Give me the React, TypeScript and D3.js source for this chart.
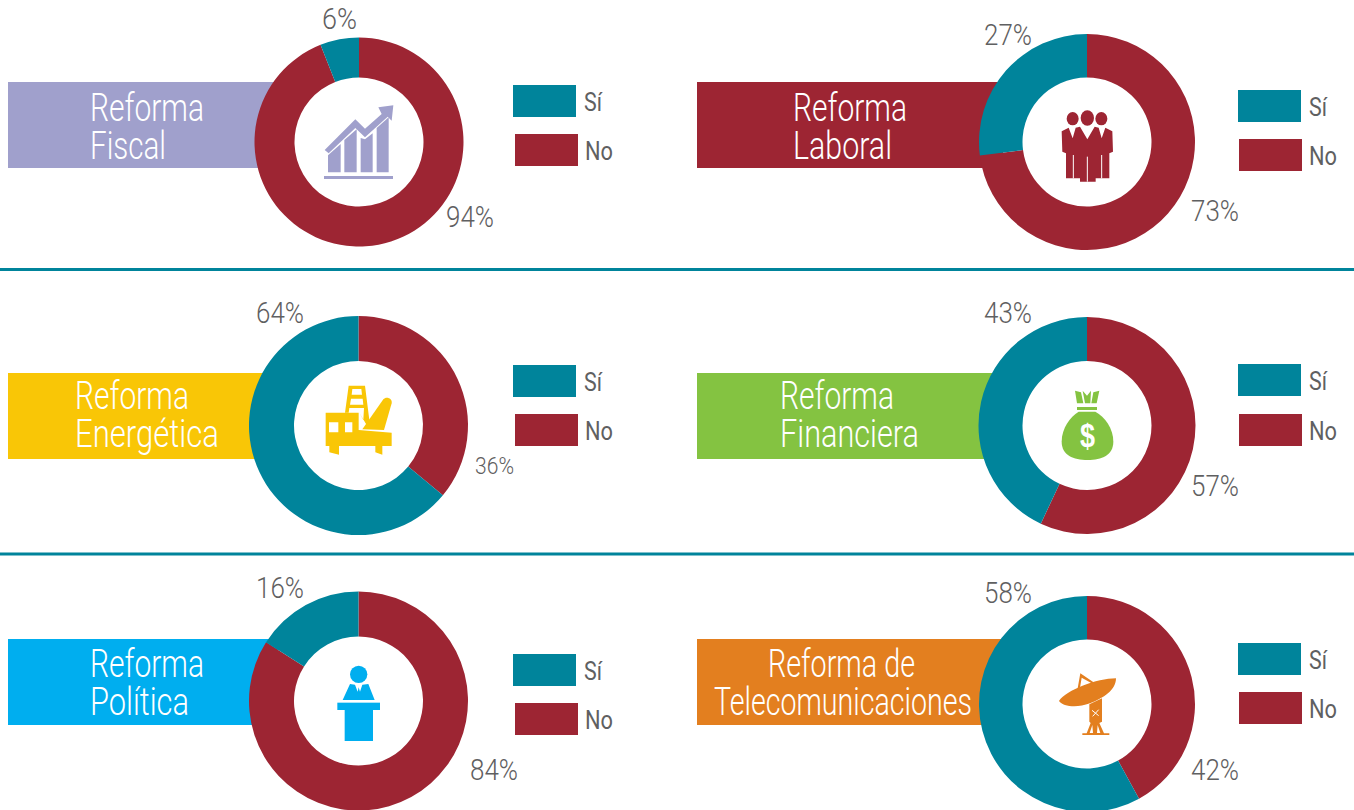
import React from "react";
import * as d3 from "d3";

// ---- data ----
const reformas = ["Fiscal", "Laboral", "Energética", "Financiera", "Política", "Telecomunicaciones"];
const siValues = [6, 27, 64, 43, 16, 58];
const noValues = [94, 73, 36, 57, 84, 42];
const legendLabels = ["Sí", "No"];
const titleLines = [
  ["Reforma", "Fiscal"],
  ["Reforma", "Laboral"],
  ["Reforma", "Energética"],
  ["Reforma", "Financiera"],
  ["Reforma", "Política"],
  ["Reforma de", "Telecomunicaciones"],
];

// ---- colours ----
const TEAL = "#00849b";
const RED = "#9d2533";
const GREY = "#5f6061";
const themeColors = ["#a0a0cc", RED, "#f9c606", "#84c341", "#00aeef", "#e37f1f"];

// ---- layout ----
const donuts = [
  { cx: 359, cy: 142, R: 104.5 },
  { cx: 1087, cy: 142, R: 108 },
  { cx: 358.5, cy: 425.5, R: 109.5 },
  { cx: 1087, cy: 425.5, R: 108.5 },
  { cx: 358.5, cy: 701, R: 109.5 },
  { cx: 1087, cy: 704, R: 108 },
];
const INNER = 64.5;
const banners = [
  { x: 8, y: 82, w: 270 },
  { x: 697, y: 82, w: 306 },
  { x: 8, y: 373, w: 270 },
  { x: 697, y: 373, w: 300 },
  { x: 8, y: 639, w: 270 },
  { x: 697, y: 639, w: 310 },
];
// [x, baseline, width] per title line
const titlePos = [
  [[90, 120.5, 114], [90, 159, 76]],
  [[793, 120.5, 114], [793, 159, 99]],
  [[75, 408.5, 114], [75, 447, 144]],
  [[780, 408.5, 114], [780, 447, 139]],
  [[90, 676.5, 114], [90, 715, 99]],
  [[768, 676.5, 147], [714, 715, 258]],
];
// [x, baseline, width, size]
const siPos = [[322, 29, 35, 30], [984, 45, 48, 30], [256, 323, 48, 30], [984, 323, 48, 30], [256, 598, 48, 30], [984, 603, 48, 30]];
const noPos = [[446, 227, 48, 30], [1191, 221, 48, 30], [475, 474, 39, 23], [1191, 496, 48, 30], [470, 780, 48, 30], [1191, 780, 48, 30]];
// [siX, siY, noX, noY]
const legendPos = [
  [513, 85, 515, 134],
  [1238, 90, 1239, 139],
  [513, 365, 515, 414],
  [1238, 364, 1239, 414],
  [513, 654, 515, 703],
  [1238, 643, 1239, 692],
];
const FONT = "Roboto, 'Liberation Sans Narrow', sans-serif";

// ---- icons, drawn in a 3x local grid ----
const icons: { ox: number; oy: number; draw: (c: string) => React.ReactNode }[] = [
  {
    ox: 250, oy: 0,
    draw: (c) => (
      <g fill={c}>
        <rect x={222} y={528} width={207} height={9} />
        <path d="M234 466L272 432V517H234Z" />
        <path d="M283 420L320 388V517H283Z" />
        <path d="M332 414L345 418L368 400V517H332Z" />
        <path d="M380 384L416 352V517H380Z" />
        <path d="M224 450L316 358L345 386L395 342L385 322L430 316L425 362L413 350L345 412L316 384L236 460Z" />
      </g>
    ),
  },
  {
    ox: 1030, oy: 90,
    draw: (c) => (
      <g fill={c}>
        <ellipse cx={128} cy={86} rx={18} ry={20} />
        <ellipse cx={172} cy={84} rx={20} ry={23} />
        <ellipse cx={214} cy={86} rx={18} ry={20} />
        <path d="M95 124L116 113L128 145L137 113L150 110L172 148L194 110L206 113L215 145L226 113L247 124L249 185L238 190V265H197V275H150V265H108V190L97 185Z" />
        <path d="M130 195V265M172 200V275M215 195V265" stroke="#fff" strokeWidth={3} fill="none" />
      </g>
    ),
  },
  {
    ox: 300, oy: 370,
    draw: (c) => (
      <g fill={c}>
        <path fillRule="evenodd" d="M135 128L146 47H195L208 150L200 165L178 128ZM157 57L155 74H186L184 57ZM153 86L150 104H190L188 86ZM148 114L146 128H178L190 150L192 114Z" />
        <path d="M187 178L250 88C258 78 278 84 275 100L252 180Z" />
        <path fillRule="evenodd" d="M77 128H176V180L275 188V228H247V254L226 247V228H117V254L88 247V228H77ZM87 157V187H115V157ZM135 157V187H157V157Z" />
      </g>
    ),
  },
  {
    ox: 1030, oy: 375,
    draw: (c) => (
      <g fill={c}>
        <path d="M135 47L153 52L160 85H141ZM158 47L171 62L183 47L181 85H165ZM208 47L190 52L184 85H200Z" />
        <rect x={141} y={96} width={60} height={9} />
        <path d="M146 110H196C225 125 250 160 250 200C250 240 215 255 173 255C130 255 95 240 95 200C95 160 120 125 146 110Z" />
        <text x={150} y={215} textLength={45} lengthAdjust="spacingAndGlyphs" fontFamily="'Liberation Sans', sans-serif" fontWeight={700} fontSize={98} fill="#fff">$</text>
      </g>
    ),
  },
  {
    ox: 305, oy: 650,
    draw: (c) => (
      <g fill={c}>
        <circle cx={161} cy={73} r={26} />
        <path d="M135 102L150 104L158 125L161 112L165 125L172 104L190 102L209 150H113Z" />
        <rect x={97} y={158} width={128} height={22} />
        <rect x={119} y={180} width={85} height={93} />
      </g>
    ),
  },
  {
    ox: 1040, oy: 655,
    draw: (c) => (
      <g fill={c}>
        <path d="M57 138C80 105 170 70 228 70C228 105 190 130 150 145C110 160 70 155 57 138Z" />
        <path d="M113 100L121 55L165 85L155 85L125 68L120 98Z" />
        <path d="M148 148L186 130V200L178 204L192 235H208V240H127V235H140L152 204L148 200Z" />
        <path d="M156 166L176 182M176 164L158 184" stroke="#fff" strokeWidth={3} fill="none" />
        <path d="M157 210L149 234H159ZM173 210L181 234H171Z" fill="#fff" />
      </g>
    ),
  },
];

const pie = d3.pie<number>().sort(null).value((d) => d);

export default function App() {
  return (
    <svg width={1354} height={810} viewBox="0 0 1354 810" style={{ position: "absolute", left: 0, top: 0, display: "block" }}>
      <rect width={1354} height={810} fill="#fff" />
      <line x1={0} x2={1354} y1={269.5} y2={269.5} stroke={TEAL} strokeWidth={3} />
      <line x1={0} x2={1354} y1={554} y2={554} stroke={TEAL} strokeWidth={3} />
      {reformas.map((name, i) => {
        const d = donuts[i];
        const b = banners[i];
        const color = themeColors[i];
        const slices = pie([noValues[i], siValues[i]]);
        const arc = d3.arc<d3.PieArcDatum<number>>().innerRadius(INNER).outerRadius(d.R);
        const lp = legendPos[i];
        const ic = icons[i];
        return (
          <g key={name} data-name={name}>
            <rect x={b.x} y={b.y} width={b.w} height={86} fill={color} />
            {titleLines[i].map((t, j) => (
              <text key={j} x={titlePos[i][j][0]} y={titlePos[i][j][1]} textLength={titlePos[i][j][2]} lengthAdjust="spacingAndGlyphs"
                fontFamily={FONT} fontWeight={300} fontSize={38} fill="#fff">{t}</text>
            ))}
            <g transform={`translate(${d.cx},${d.cy})`}>
              {slices.map((s, j) => (
                <path key={j} d={arc(s) || ""} fill={j === 0 ? RED : TEAL} />
              ))}
            </g>
            <g transform={`translate(${ic.ox},${ic.oy}) scale(${1 / 3})`}>{ic.draw(color)}</g>
            <text x={siPos[i][0]} y={siPos[i][1]} textLength={siPos[i][2]} lengthAdjust="spacingAndGlyphs" fontFamily={FONT} fontWeight={300} fontSize={siPos[i][3]} fill={GREY}>{siValues[i]}%</text>
            <text x={noPos[i][0]} y={noPos[i][1]} textLength={noPos[i][2]} lengthAdjust="spacingAndGlyphs" fontFamily={FONT} fontWeight={300} fontSize={noPos[i][3]} fill={GREY}>{noValues[i]}%</text>
            <rect x={lp[0]} y={lp[1]} width={63} height={32} fill={TEAL} />
            <rect x={lp[2]} y={lp[3]} width={63} height={32} fill={RED} />
            <text x={lp[0] + 71} y={lp[1] + 26} textLength={18} lengthAdjust="spacingAndGlyphs" fontFamily={FONT} fontWeight={400} fontSize={25} fill={GREY}>{legendLabels[0]}</text>
            <text x={lp[2] + 70} y={lp[3] + 26} textLength={28} lengthAdjust="spacingAndGlyphs" fontFamily={FONT} fontWeight={400} fontSize={25} fill={GREY}>{legendLabels[1]}</text>
          </g>
        );
      })}
    </svg>
  );
}
